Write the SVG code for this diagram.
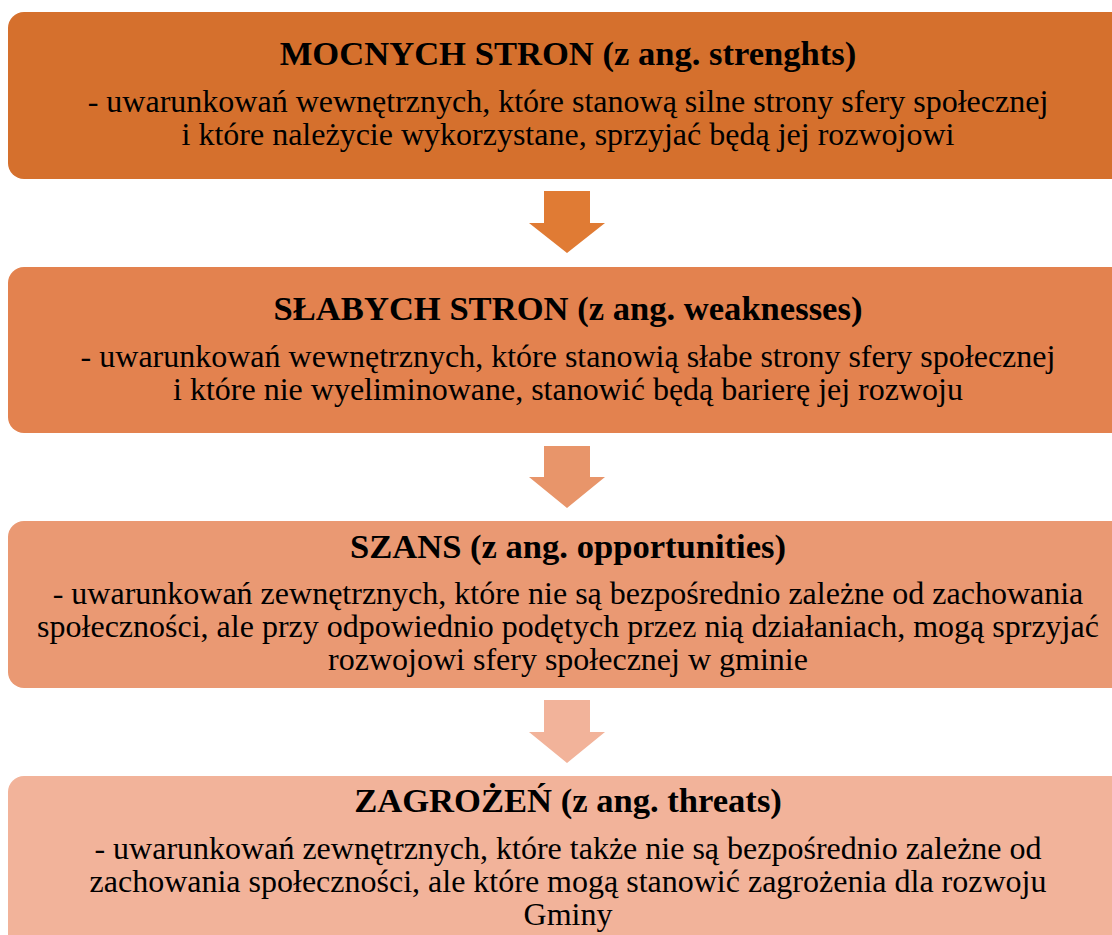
<svg xmlns="http://www.w3.org/2000/svg" width="1112" height="935" viewBox="0 0 1112 935">
<style>
.swot-title{font-weight:bold;font-size:34.6px;fill:#000;text-anchor:middle}
.swot-body{font-size:32px;fill:#000;text-anchor:middle}
</style>
<rect width="1112" height="935" fill="#fff"/>
<g id="connectors">
<polygon points="544,191 590,191 590,223 605,223 567,253 529,223 544,223" fill="#E07B34"/>
<polygon points="544,446 590,446 590,477 605,477 567,508 529,477 544,477" fill="#E8956A"/>
<polygon points="544,700 590,700 590,732 605,732 567,763 529,732 544,732" fill="#F2B39A"/>
</g>
<g id="node-strengths">
<rect x="8" y="12" width="1140" height="167" rx="16" fill="#D5702D"/>
<text class="swot-title" font-family="Liberation Serif" x="568" y="65">MOCNYCH STRON (z ang. strenghts)</text>
<text class="swot-body" font-family="Liberation Serif" x="568" y="112">- uwarunkowań wewnętrznych, które stanową silne strony sfery społecznej</text>
<text class="swot-body" font-family="Liberation Serif" x="568" y="145">i które należycie wykorzystane, sprzyjać będą jej rozwojowi</text>
</g>
<g id="node-weaknesses">
<rect x="8" y="267" width="1140" height="166" rx="16" fill="#E3824F"/>
<text class="swot-title" font-family="Liberation Serif" x="568" y="320">SŁABYCH STRON (z ang. weaknesses)</text>
<text class="swot-body" font-family="Liberation Serif" x="568" y="367">- uwarunkowań wewnętrznych, które stanowią słabe strony sfery społecznej</text>
<text class="swot-body" font-family="Liberation Serif" x="568" y="400">i które nie wyeliminowane, stanowić będą barierę jej rozwoju</text>
</g>
<g id="node-opportunities">
<rect x="8" y="521" width="1140" height="167" rx="16" fill="#EA9973"/>
<text class="swot-title" font-family="Liberation Serif" x="568" y="558">SZANS (z ang. opportunities)</text>
<text class="swot-body" font-family="Liberation Serif" x="568" y="604">- uwarunkowań zewnętrznych, które nie są bezpośrednio zależne od zachowania</text>
<text class="swot-body" font-family="Liberation Serif" x="568" y="637">społeczności, ale przy odpowiednio podętych przez nią działaniach, mogą sprzyjać</text>
<text class="swot-body" font-family="Liberation Serif" x="568" y="670">rozwojowi sfery społecznej w gminie</text>
</g>
<g id="node-threats">
<rect x="8" y="776" width="1140" height="200" rx="16" fill="#F2B39A"/>
<text class="swot-title" font-family="Liberation Serif" x="568" y="812">ZAGROŻEŃ (z ang. threats)</text>
<text class="swot-body" font-family="Liberation Serif" x="568" y="859">- uwarunkowań zewnętrznych, które także nie są bezpośrednio zależne od</text>
<text class="swot-body" font-family="Liberation Serif" x="568" y="892">zachowania społeczności, ale które mogą stanowić zagrożenia dla rozwoju</text>
<text class="swot-body" font-family="Liberation Serif" x="568" y="925">Gminy</text>
</g>
</svg>
